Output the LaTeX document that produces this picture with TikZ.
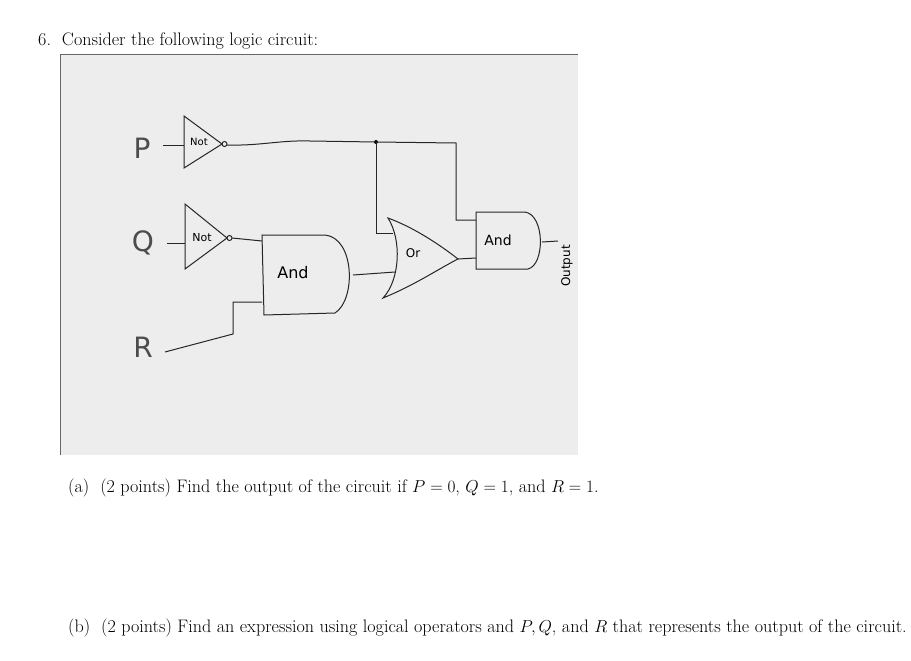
\documentclass[tikz,border=0pt]{standalone}
\usepackage{fontspec}
\newfontfamily\hand{DejaVu Sans}
\begin{document}
\begin{tikzpicture}[x=1pt,y=-1pt,
  wire/.style={line width=1pt,black!85},
  gate/.style={line width=1pt,black!85,fill=none},
  lab/.style={font=\hand\fontsize{28}{28}\selectfont\color{black!70}},
  txt/.style={font=\fontsize{18.1}{21}\selectfont,anchor=west,inner sep=0pt}]
\useasboundingbox (0,0) rectangle (911,661);
\fill[white] (0,0) rectangle (911,661);
% photo
\fill[black!7] (60,55) rectangle (578,455);
\draw[black!60,line width=1pt] (60,455) -- (60,55) -- (578,55);
% texts
\node[txt] (t6) at (38,41) {6.\ \ Consider the following logic circuit:};
\node[txt] (ta) at (68,488) {(a)\ \ (2 points) Find the output of the circuit if $P=0$, $Q=1$, and $R=1$.};
\node[txt] (tb) at (68,628) {(b)\ \ (2 points) Find an expression using logical operators and $P, Q$, and $R$ that represents the output of the circuit.};
% labels
\node[lab] (P) at (142,148) {P};
\node[lab] (Q) at (143,243) {Q};
\node[lab] (R) at (143,347) {R};
% NOT gates
\draw[gate] (184,116) -- (222,144) -- (184,168) -- cycle;
\draw[gate] (224.5,144) circle (2.5);
\node[font=\hand\fontsize{10}{10}\selectfont] (n1) at (199,142) {Not};
\draw[gate] (185,204) -- (227,238) -- (185,269) -- cycle;
\draw[gate] (229.5,238) circle (2.5);
\node[font=\hand\fontsize{11}{11}\selectfont] (n2) at (202,238) {Not};
% AND1
\draw[gate] (262,235) -- (325,235) .. controls (355,238) and (356,300) .. (335,313) -- (264,315) -- cycle;
\node[font=\hand\fontsize{16}{16}\selectfont] (a1) at (293,273) {And};
% OR
\draw[gate] (388,218) .. controls (402,240) and (400,280) .. (383,298) .. controls (415,285) and (440,268) .. (458,259) .. controls (440,245) and (415,228) .. (388,218) -- cycle;
\node[font=\hand\fontsize{12}{12}\selectfont] (o) at (413,253) {Or};
% AND2
\draw[gate] (476,212) -- (525,212) .. controls (545,215) and (545,265) .. (528,269) -- (476,269) -- cycle;
\node[font=\hand\fontsize{14}{14}\selectfont] (a2) at (498,240) {And};
\node[font=\hand\fontsize{12}{12}\selectfont,rotate=90] (out) at (567,266) {Output};
% wires
\coordinate (j) at (376,142);
\fill (j) circle (2);
\draw[wire] (163,145) -- (184,145);
\draw[wire] (167,243) -- (185,243);
\draw[wire] (227,145) .. controls (260,146) and (280,140) .. (310,141) -- (j) -- (456,143) -- (456,220) -- (476,220);
\draw[wire] (j) -- (376,233) -- (393,233);
\draw[wire] (232,238) -- (262,241);
\draw[wire] (165,352) -- (233,334) -- (233,302) -- (262,302);
\draw[wire] (353,275) -- (395,272);
\draw[wire] (458,259) -- (476,258);
\draw[wire] (542,242) -- (558,241);
\end{tikzpicture}
\end{document}
